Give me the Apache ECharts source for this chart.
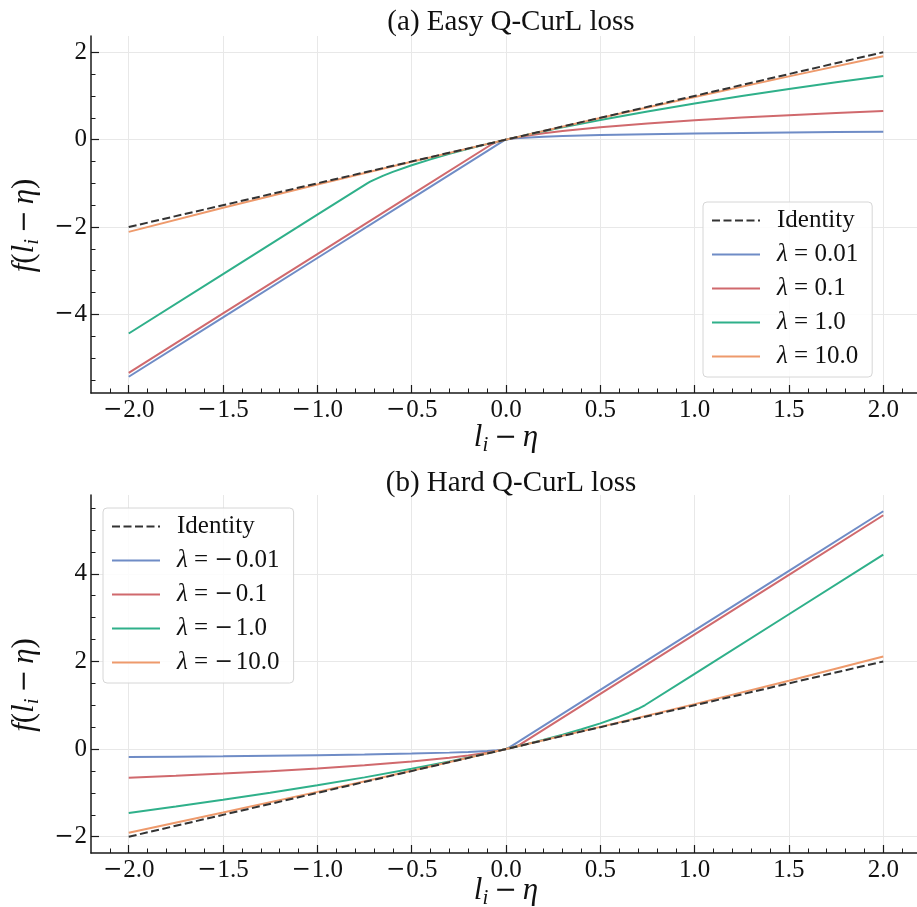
<!DOCTYPE html>
<html><head><meta charset="utf-8">
<script src="https://cdn.jsdelivr.net/npm/echarts@6/dist/echarts.min.js"></script>
<style>html,body{margin:0;padding:0;background:#fff}#c{width:917px;height:907px}</style>
</head><body><div id="c"></div>
<script>
// ---------- data ----------
const identityX = [-2, 2];
const identityY = [-2, 2];

// (a) Easy Q-CurL loss
const easyX001 = [-2, -1.5, -1, -0.5, -0.1, -0.05, -0.02, -0.00736, -0.004, 0, 0.002, 0.005, 0.01, 0.02, 0.05, 0.1, 0.2, 0.3, 0.5, 0.75, 1.0, 1.25, 1.5, 1.75, 2.0];
const easyY001 = [-5.4266, -4.0674, -2.7083, -1.3491, -0.2618, -0.1259, -0.0444, -0.0100, -0.0045, 0, 0.0019, 0.0045, 0.0083, 0.0146, 0.0284, 0.0441, 0.0654, 0.0806, 0.1029, 0.1232, 0.1390, 0.1522, 0.1635, 0.1734, 0.1823];
const easyX01 = [-2, -1.5, -1, -0.5, -0.0736, -0.06, -0.04, -0.02, 0, 0.02, 0.05, 0.1, 0.2, 0.3, 0.5, 0.75, 1.0, 1.25, 1.5, 1.75, 2.0];
const easyY01 = [-5.3366, -3.9774, -2.6183, -1.2591, -0.1000, -0.0739, -0.0451, -0.0211, 0, 0.0191, 0.0449, 0.0827, 0.1456, 0.1979, 0.2836, 0.3697, 0.4414, 0.5035, 0.5586, 0.6083, 0.6538];
const easyX1 = [-2, -1.5, -1, -0.7358, -0.72, -0.7, -0.65, -0.6, -0.5, -0.4, -0.3, -0.2, -0.1, 0, 0.1, 0.2, 0.3, 0.5, 0.75, 1.0, 1.25, 1.5, 1.75, 2.0];
const easyY1 = [-4.4366, -3.0774, -1.7183, -1.0000, -0.9624, -0.9198, -0.8245, -0.7393, -0.5871, -0.4512, -0.3268, -0.2112, -0.1026, 0, 0.0976, 0.1909, 0.2803, 0.4494, 0.6452, 0.8272, 0.9977, 1.1584, 1.3109, 1.4559];
const easyX10 = [-2, -1.5, -1, -0.5, 0, 0.5, 1, 1.5, 2];
const easyY10 = [-2.1116, -1.5609, -1.0264, -0.5064, 0, 0.4939, 0.9762, 1.4476, 1.9088];

// (b) Hard Q-CurL loss
const hardX001 = [-2.0, -1.75, -1.5, -1.25, -1.0, -0.75, -0.5, -0.3, -0.2, -0.1, -0.05, -0.02, -0.01, -0.005, -0.002, 0, 0.004, 0.00736, 0.02, 0.05, 0.1, 0.5, 1, 1.5, 2];
const hardY001 = [-0.1823, -0.1734, -0.1635, -0.1522, -0.1390, -0.1232, -0.1029, -0.0806, -0.0654, -0.0441, -0.0284, -0.0146, -0.0083, -0.0045, -0.0019, 0, 0.0045, 0.0100, 0.0444, 0.1259, 0.2618, 1.3491, 2.7083, 4.0674, 5.4266];
const hardX01 = [-2.0, -1.75, -1.5, -1.25, -1.0, -0.75, -0.5, -0.3, -0.2, -0.1, -0.05, -0.02, 0, 0.02, 0.04, 0.06, 0.0736, 0.5, 1, 1.5, 2];
const hardY01 = [-0.6538, -0.6083, -0.5586, -0.5035, -0.4414, -0.3697, -0.2836, -0.1979, -0.1456, -0.0827, -0.0449, -0.0191, 0, 0.0211, 0.0451, 0.0739, 0.1000, 1.2591, 2.6183, 3.9774, 5.3366];
const hardX1 = [-2.0, -1.75, -1.5, -1.25, -1.0, -0.75, -0.5, -0.3, -0.2, -0.1, 0, 0.1, 0.2, 0.3, 0.4, 0.5, 0.6, 0.65, 0.7, 0.72, 0.7358, 1, 1.5, 2];
const hardY1 = [-1.4559, -1.3109, -1.1584, -0.9977, -0.8272, -0.6452, -0.4494, -0.2803, -0.1909, -0.0976, 0, 0.1026, 0.2112, 0.3268, 0.4512, 0.5871, 0.7393, 0.8245, 0.9198, 0.9624, 1.0000, 1.7183, 3.0774, 4.4366];
const hardX10 = [-2, -1.5, -1, -0.5, 0, 0.5, 1, 1.5, 2];
const hardY10 = [-1.9088, -1.4476, -0.9762, -0.4939, 0, 0.5064, 1.0264, 1.5609, 2.1116];

const easyNames = ['Identity', 'λ = 0.01', 'λ = 0.1', 'λ = 1.0', 'λ = 10.0'];
const hardNames = ['Identity', 'λ = −0.01', 'λ = −0.1', 'λ = −1.0', 'λ = −10.0'];
const titles = ['(a) Easy Q-CurL loss', '(b) Hard Q-CurL loss'];

// tick values
const xMajorTicks = [-2.0, -1.5, -1.0, -0.5, 0.0, 0.5, 1.0, 1.5, 2.0];
const xMinorTicks = [-2.1, -1.9, -1.8, -1.7, -1.6, -1.4, -1.3, -1.2, -1.1, -0.9, -0.8, -0.7, -0.6, -0.4, -0.3, -0.2, -0.1, 0.1, 0.2, 0.3, 0.4, 0.6, 0.7, 0.8, 0.9, 1.1, 1.2, 1.3, 1.4, 1.6, 1.7, 1.8, 1.9, 2.1];
const yMajorTop = [-4, -2, 0, 2];
const yMinorTop = [-5.5, -5, -4.5, -3.5, -3, -2.5, -1.5, -1, -0.5, 0.5, 1, 1.5];
const yMajorBottom = [-2, 0, 2, 4];
const yMinorBottom = [-1.5, -1, -0.5, 0.5, 1, 1.5, 2.5, 3, 3.5, 4.5, 5, 5.5];
const xRange = [-2.2, 2.2];
const yRangeTop = [-5.798, 2.371];
const yRangeBottom = [-2.371, 5.798];

// ---------- styling ----------
const FONT = 'Liberation Serif';
const MFONT = 'DejaVu Serif';
const colors = ['#333333', '#6f8cc6', '#d0696d', '#2fb08a', '#ee9a6c'];
const AX = '#1a1a1a';
const TXT = '#111111';

function pairs(xs, ys) { return xs.map((x, i) => [x, ys[i]]); }
function fmtX(v) { const s = Math.abs(v).toFixed(1); return v < -1e-9 ? '{m|−}' + s : s; }
function fmtY(v) { const s = String(Math.abs(v)); return v < 0 ? '{m|−}' + s : s; }

const NS = 31;
const mathRich = {
  it: { fontFamily: FONT, fontStyle: 'italic', fontSize: NS, color: TXT },
  n: { fontFamily: FONT, fontSize: NS, color: TXT },
  m: { fontFamily: MFONT, fontSize: NS - 4, color: TXT, padding: [0, 6, 0, 6] },
  sub: { fontFamily: FONT, fontStyle: 'italic', fontSize: 21, color: TXT, padding: [15, 0, 0, 0] }
};
const xName = '{it|l}{sub|i}{m|−}{it|η}';
const yName = '{it|f}{n|(}{it|l}{sub|i}{m|−}{it|η}{n|)}';
const tickRich = { m: { fontFamily: MFONT, fontSize: 23, color: TXT, padding: [0, 1, 0, 0] } };

function mainX(grid, gap) {
  return {
    gridIndex: grid, type: 'value', position: 'bottom', min: xRange[0], max: xRange[1],
    axisLine: { show: true, onZero: false, lineStyle: { color: AX, width: 1.5 } },
    axisTick: { show: true, inside: true, length: 8, customValues: xMajorTicks, lineStyle: { color: AX, width: 1.2 } },
    axisLabel: { show: true, customValues: xMajorTicks, formatter: fmtX, fontFamily: FONT, fontSize: 25, color: TXT, margin: 5, rich: tickRich },
    splitLine: { show: true, lineStyle: { color: '#e8e8e8', width: 1 } },
    name: xName, nameLocation: 'middle', nameGap: gap, nameMoveOverlap: false,
    nameTextStyle: { rich: mathRich }
  };
}
function minorX(grid) {
  return {
    gridIndex: grid, type: 'value', position: 'bottom', min: xRange[0], max: xRange[1],
    axisLine: { show: false, onZero: false },
    axisTick: { show: true, inside: true, length: 4.5, customValues: xMinorTicks, lineStyle: { color: AX, width: 1 } },
    axisLabel: { show: false }, splitLine: { show: false }
  };
}
function mainY(grid, rng, major) {
  return {
    gridIndex: grid, type: 'value', position: 'left', min: rng[0], max: rng[1],
    axisLine: { show: true, onZero: false, lineStyle: { color: AX, width: 1.5 } },
    axisTick: { show: true, inside: true, length: 8, customValues: major, lineStyle: { color: AX, width: 1.2 } },
    axisLabel: { show: true, customValues: major, formatter: fmtY, fontFamily: FONT, fontSize: 25, color: TXT, margin: 4, rich: tickRich },
    splitLine: { show: true, lineStyle: { color: '#e8e8e8', width: 1 } },
    name: yName, nameLocation: 'middle', nameGap: 48, nameRotate: 90,
    nameTextStyle: { rich: mathRich, padding: [0, 22, 0, 0] }
  };
}
function minorY(grid, rng, minor) {
  return {
    gridIndex: grid, type: 'value', position: 'left', min: rng[0], max: rng[1],
    axisLine: { show: false, onZero: false },
    axisTick: { show: true, inside: true, length: 4.5, customValues: minor, lineStyle: { color: AX, width: 1 } },
    axisLabel: { show: false }, splitLine: { show: false }
  };
}
function line(name, xs, ys, color, xi, yi, dashed) {
  return {
    type: 'line', name: name, xAxisIndex: xi, yAxisIndex: yi,
    data: pairs(xs, ys), showSymbol: false, symbol: 'none', smooth: false,
    lineStyle: { color: color, width: 2, type: dashed ? [8, 3.5] : 'solid' },
    itemStyle: { color: color }, z: dashed ? 5 : 3, animation: false
  };
}
function legend(left, top, names) {
  return {
    orient: 'vertical', left: left, top: top, data: names,
    itemWidth: 48, itemHeight: 14, itemGap: 9,
    padding: [6, 14, 8, 8],
    backgroundColor: 'rgba(255,255,255,0.85)', borderColor: '#d6d6d6', borderWidth: 1, borderRadius: 4,
    selectedMode: false,
    itemStyle: { color: 'rgba(0,0,0,0)', borderWidth: 0, opacity: 0 },
    formatter: n => n.replace('λ', '{it|λ}').replace('−', '{m|−}'),
    textStyle: {
      fontFamily: FONT, fontSize: 25, color: TXT, padding: [0, 0, 0, 12],
      rich: {
        it: { fontFamily: FONT, fontStyle: 'italic', fontSize: 25, color: TXT },
        m: { fontFamily: MFONT, fontSize: 22, color: TXT, padding: [0, 3, 0, 0] }
      }
    }
  };
}

const option = {
  animation: false,
  backgroundColor: '#ffffff',
  title: [
    { text: titles[0], left: 506, top: 3, textAlign: 'center', textStyle: { fontFamily: FONT, fontSize: 29, fontWeight: 'normal', color: TXT } },
    { text: titles[1], left: 506, top: 464, textAlign: 'center', textStyle: { fontFamily: FONT, fontSize: 29, fontWeight: 'normal', color: TXT } }
  ],
  legend: [legend(703, 202, easyNames), legend(103, 508, hardNames)],
  grid: [
    { left: 91, top: 36, width: 830, height: 357, outerBoundsMode: 'none', containLabel: false },
    { left: 91, top: 495, width: 830, height: 358, outerBoundsMode: 'none', containLabel: false }
  ],
  xAxis: [mainX(0, 27), minorX(0), mainX(1, 20), minorX(1)],
  yAxis: [mainY(0, yRangeTop, yMajorTop), minorY(0, yRangeTop, yMinorTop), mainY(1, yRangeBottom, yMajorBottom), minorY(1, yRangeBottom, yMinorBottom)],
  series: [
    line(easyNames[1], easyX001, easyY001, colors[1], 0, 0),
    line(easyNames[2], easyX01, easyY01, colors[2], 0, 0),
    line(easyNames[3], easyX1, easyY1, colors[3], 0, 0),
    line(easyNames[4], easyX10, easyY10, colors[4], 0, 0),
    line(easyNames[0], identityX, identityY, colors[0], 0, 0, true),
    line(hardNames[1], hardX001, hardY001, colors[1], 2, 2),
    line(hardNames[2], hardX01, hardY01, colors[2], 2, 2),
    line(hardNames[3], hardX1, hardY1, colors[3], 2, 2),
    line(hardNames[4], hardX10, hardY10, colors[4], 2, 2),
    line(hardNames[0], identityX, identityY, colors[0], 2, 2, true)
  ]
};
const chart = echarts.init(document.getElementById('c'), null, { renderer: 'canvas' });
chart.setOption(option);
</script></body></html>
